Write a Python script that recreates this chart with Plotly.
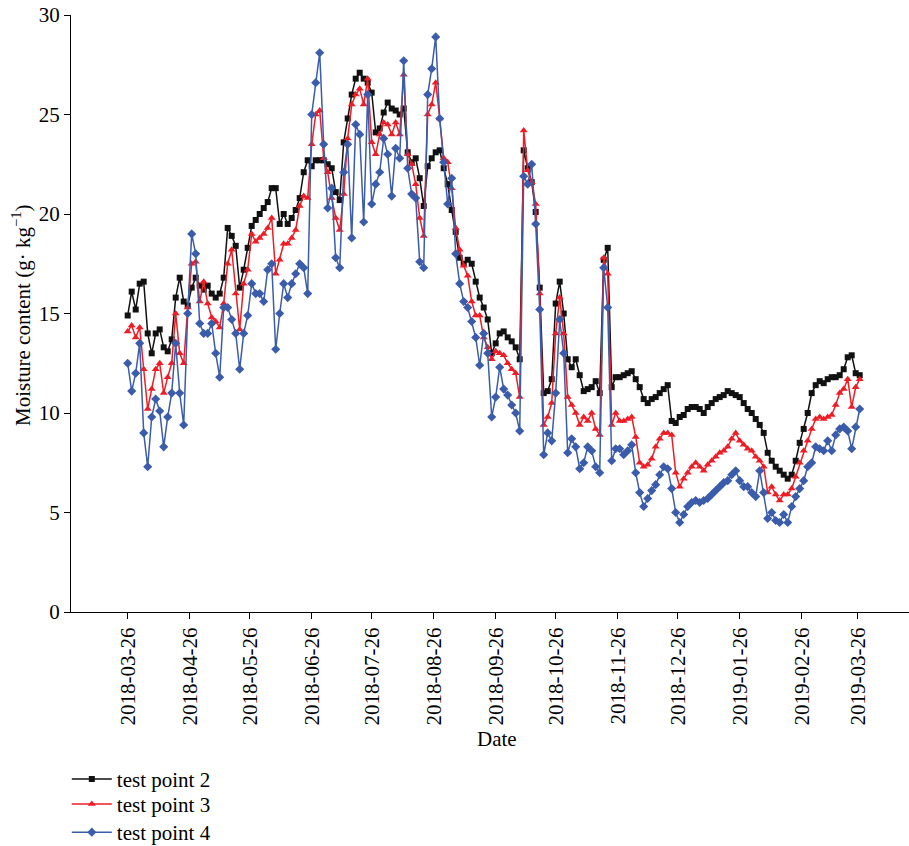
import pandas as pd
import plotly.graph_objects as go

# sampling dates (every 2 days from 2018-03-26)
dates = pd.date_range("2018-03-26", periods=184, freq="2D")

tp2 = [
    14.9, 16.1, 15.2, 16.5, 16.6, 14.0, 13.0, 14.0, 14.2, 13.3,
    13.1, 13.7, 15.8, 16.8, 15.6, 15.4, 16.3, 16.8, 16.4, 16.2,
    16.4, 16.0, 15.8, 16.0, 16.8, 19.3, 18.9, 18.4, 16.3, 17.2,
    18.3, 19.4, 19.7, 20.0, 20.3, 20.6, 21.3, 21.3, 19.5, 20.0,
    19.5, 19.8, 20.2, 20.8, 22.1, 22.7, 22.4, 22.7, 22.7, 22.7,
    22.5, 22.3, 21.1, 20.7, 23.6, 24.8, 26.0, 26.8, 27.1, 26.8,
    26.6, 26.1, 24.1, 24.3, 25.1, 25.6, 25.3, 25.2, 25.0, 25.3,
    23.1, 22.6, 22.8, 21.8, 20.4, 22.4, 22.8, 23.1, 23.2, 22.3,
    21.5, 20.2, 19.1, 17.8, 17.5, 17.7, 17.5, 16.6, 15.8, 15.3,
    14.7, 13.0, 13.5, 14.0, 14.1, 13.8, 13.6, 13.3, 12.7, 23.2,
    22.3, 21.6, 20.1, 16.3, 11.0, 11.1, 11.7, 15.5, 16.6, 15.0,
    12.7, 12.3, 12.7, 11.9, 11.1, 11.2, 11.3, 11.6, 11.0, 17.7,
    18.3, 11.3, 11.8, 11.8, 11.9, 12.0, 12.1, 11.7, 11.3, 10.7,
    10.5, 10.7, 10.8, 11.0, 11.2, 11.4, 9.6, 9.5, 9.8, 9.9,
    10.2, 10.3, 10.3, 10.2, 10.0, 10.3, 10.5, 10.7, 10.8, 10.9,
    11.1, 11.0, 10.9, 10.8, 10.5, 10.2, 10.0, 9.7, 9.4, 9.0,
    8.0, 7.6, 7.3, 7.1, 6.9, 6.7, 6.9, 7.6, 8.5, 9.2,
    10.0, 11.0, 11.4, 11.6, 11.5, 11.7, 11.8, 11.8, 11.9, 12.2,
    12.8, 12.9, 12.0, 11.9,
]

tp3 = [
    14.1, 14.4, 13.8, 14.3, 12.2, 10.2, 11.2, 12.2, 12.5, 11.0,
    11.8, 12.5, 15.0, 13.0, 12.5, 15.3, 17.5, 17.6, 15.6, 16.6,
    15.5, 14.8, 14.6, 14.3, 15.5, 17.5, 18.2, 16.0, 14.2, 16.5,
    17.2, 19.0, 18.6, 18.8, 19.0, 19.3, 19.8, 17.0, 17.7, 18.5,
    18.5, 18.8, 19.2, 20.4, 20.9, 20.8, 23.5, 25.0, 25.2, 22.8,
    22.1, 20.8, 19.8, 19.2, 21.0, 23.8, 25.5, 26.0, 26.3, 25.5,
    26.8, 23.6, 23.0, 24.0, 24.6, 24.5, 24.0, 24.6, 24.0, 27.0,
    23.0, 22.5, 21.5, 19.8, 18.9, 25.0, 25.5, 26.6, 24.8, 22.8,
    22.6, 21.3, 19.3, 18.2, 17.4, 16.9, 15.6, 14.9, 14.9, 13.8,
    13.3, 12.7, 13.1, 13.0, 12.9, 12.5, 12.2, 12.0, 10.8, 24.2,
    22.2, 21.6, 20.5, 16.0, 9.4, 9.8, 10.5, 14.0, 15.8, 14.0,
    10.8, 10.4, 10.0, 9.4, 9.8, 9.6, 10.0, 9.2, 8.9, 17.8,
    17.0, 9.4, 10.0, 9.6, 9.6, 9.7, 9.8, 8.8, 7.5, 7.3,
    7.4, 7.7, 8.3, 8.7, 9.0, 9.0, 8.9, 7.0, 6.3, 6.7,
    7.0, 7.3, 7.5, 7.3, 7.1, 7.4, 7.6, 7.8, 8.0, 8.1,
    8.3, 8.7, 9.0, 8.6, 8.4, 8.2, 8.1, 7.8, 7.6, 7.3,
    6.0, 6.3, 5.9, 5.6, 5.9, 5.9, 6.2, 6.8, 7.5, 8.1,
    8.6, 9.2, 9.7, 9.8, 9.7, 9.8, 9.9, 10.4, 11.0, 11.2,
    11.7, 10.3, 11.3, 11.7,
]

tp4 = [
    12.5, 11.1, 12.0, 13.5, 9.0, 7.3, 9.8, 10.7, 10.1, 8.3,
    9.8, 11.0, 13.5, 11.0, 9.4, 15.0, 19.0, 18.0, 14.5, 14.0,
    14.0, 14.5, 13.0, 11.8, 15.3, 15.3, 14.7, 14.0, 12.2, 14.0,
    14.9, 16.5, 16.0, 16.0, 15.6, 17.2, 17.5, 13.2, 15.0, 16.5,
    15.8, 16.5, 17.0, 17.5, 17.3, 16.0, 25.0, 26.6, 28.1, 23.5,
    20.3, 21.3, 17.8, 17.3, 22.1, 23.5, 18.8, 24.5, 24.0, 19.6,
    26.0, 20.5, 21.5, 22.1, 23.8, 23.0, 20.9, 23.3, 22.8, 27.7,
    22.3, 21.0, 20.8, 17.6, 17.3, 26.0, 27.3, 28.9, 24.8, 22.6,
    20.5, 21.8, 18.0, 16.5, 15.6, 15.3, 14.6, 13.8, 12.4, 14.0,
    13.0, 9.8, 10.8, 12.3, 11.2, 10.9, 10.4, 10.0, 9.1, 21.9,
    21.5, 22.5, 19.5, 15.2, 7.9, 9.0, 8.6, 11.0, 14.7, 13.0,
    8.0, 8.7, 8.3, 7.2, 7.5, 8.3, 8.1, 7.3, 7.0, 17.3,
    15.3, 7.6, 8.2, 8.2, 7.9, 8.1, 8.4, 7.0, 6.0, 5.3,
    5.7, 6.1, 6.4, 6.9, 7.3, 7.2, 6.2, 5.0, 4.5, 4.9,
    5.3, 5.5, 5.6, 5.5, 5.6, 5.7, 5.9, 6.1, 6.3, 6.5,
    6.6, 6.9, 7.1, 6.6, 6.3, 6.3, 6.0, 5.8, 7.1, 6.0,
    4.7, 5.0, 4.6, 4.5, 4.9, 4.5, 5.3, 5.8, 6.2, 6.6,
    7.3, 7.5, 8.3, 8.2, 8.1, 8.6, 8.1, 8.9, 9.2, 9.3,
    9.1, 8.2, 9.3, 10.2,
]

tick_dates = ["2018-03-26", "2018-04-26", "2018-05-26", "2018-06-26", "2018-07-26",
              "2018-08-26", "2018-09-26", "2018-10-26", "2018-11-26", "2018-12-26",
              "2019-01-26", "2019-02-26", "2019-03-26"]
y_ticks = [0, 5, 10, 15, 20, 25, 30]

FONT = "Liberation Serif, Times New Roman, serif"
FS = 21

fig = go.Figure()
series = [
    ("test point 2", tp2, "#111111", "square", 6, "legend"),
    ("test point 3", tp3, "#ee1c25", "triangle-up", 7, "legend2"),
    ("test point 4", tp4, "#3a5caa", "diamond", 7, "legend3"),
]
for name, vals, col, sym, sz, lg in series:
    fig.add_trace(go.Scatter(
        x=dates, y=vals, name=name, mode="lines+markers",
        line=dict(color=col, width=1.5),
        marker=dict(symbol=sym, size=sz, color=col),
        legend=lg,
    ))

def leg(ytop):
    return dict(x=-0.005, y=ytop, xanchor="left", yanchor="top",
                font=dict(family=FONT, size=FS), bgcolor="rgba(0,0,0,0)",
                borderwidth=0, itemwidth=40)

fig.update_layout(
    width=909, height=846,
    margin=dict(l=71, r=0, t=15, b=234, autoexpand=False),
    plot_bgcolor="white", paper_bgcolor="white",
    font=dict(family=FONT, size=FS, color="black"),
    showlegend=True,
    legend=leg(-0.246),
    legend2=leg(-0.2878),
    legend3=leg(-0.335),
    xaxis=dict(
        type="date",
        range=["2018-02-25 15:36", "2019-04-20 15:36"],
        tickvals=tick_dates, ticktext=tick_dates, tickangle=-90,
        ticks="outside", ticklen=6, tickcolor="black",
        showline=True, linecolor="black", linewidth=1,
        showgrid=False, zeroline=False, automargin=False,
        ticklabeloverflow="allow",
        tickfont=dict(family=FONT, size=FS),
    ),
    yaxis=dict(
        range=[0, 30], tickvals=y_ticks,
        ticks="outside", ticklen=6, tickcolor="black",
        showline=True, linecolor="black", linewidth=1,
        showgrid=False, zeroline=False, automargin=False,
        ticklabeloverflow="allow",
        tickfont=dict(family=FONT, size=FS),
    ),
    annotations=[
        dict(text="Date", x=0.508, y=-0.2127, xref="paper", yref="paper",
             xanchor="center", yanchor="middle", showarrow=False,
             font=dict(family=FONT, size=FS)),
        dict(text="Moisture content (g· kg<sup>−1</sup>)", x=-0.0585, y=0.4975,
             xref="paper", yref="paper", textangle=-90,
             xanchor="center", yanchor="middle", showarrow=False,
             font=dict(family=FONT, size=FS)),
    ],
)

fig.write_html("out.html",
               config={"displayModeBar": False},
               post_script="document.body.style.margin='0px';document.body.style.overflow='hidden';")
